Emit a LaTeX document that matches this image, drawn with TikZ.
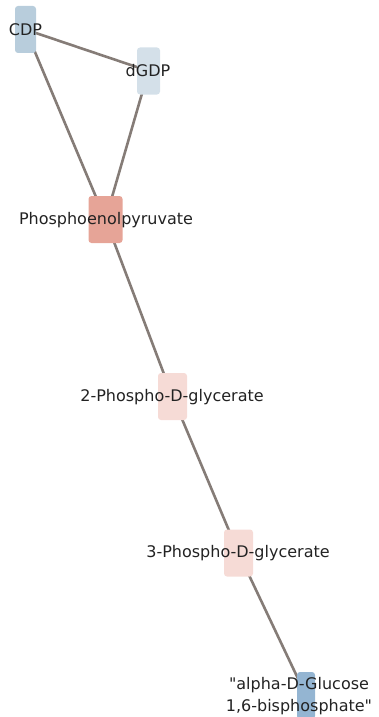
\documentclass[tikz,border=0pt]{standalone}
\usepackage{fontspec}
\setmainfont{DejaVu Sans}[Ligatures=TeXOff]
\definecolor{edgegray}{HTML}{857C77}
\definecolor{cdpblue}{HTML}{B8CDDC}
\definecolor{dgdpblue}{HTML}{D4E0E9}
\definecolor{pepred}{HTML}{E6A497}
\definecolor{pgapink}{HTML}{F6DBD6}
\definecolor{glcblue}{HTML}{94B5D2}
\definecolor{labeltext}{HTML}{222222}
\tikzset{
  metab/.style={rectangle, rounded corners=3pt, draw=none, minimum height=47pt, inner sep=0pt},
  lbl/.style={text=labeltext, font=\fontsize{16}{22}\selectfont, align=center, inner sep=0pt},
  link/.style={draw=edgegray, line width=2.6pt}
}
\begin{document}
\begin{tikzpicture}[x=1pt, y=-1pt]
\useasboundingbox (0,0) rectangle (379,717);
\clip (0,0) rectangle (379,717);
% anchor points of the metabolites
\coordinate (cdp)  at (25.5,29.5);
\coordinate (dgdp) at (148.5,71);
\coordinate (pep)  at (105.5,219.5);
\coordinate (pga2) at (172.5,396.5);
\coordinate (pga3) at (238.5,553);
\coordinate (glc)  at (306,695.5);
% connections, beneath the boxes
\draw[link] (cdp) -- (dgdp);
\draw[link] (cdp) -- (pep);
\draw[link] (dgdp) -- (pep);
\draw[link] (pep) -- (pga2);
\draw[link] (pga2) -- (pga3);
\draw[link] (pga3) -- (glc);
% metabolite boxes
\node[metab, fill=cdpblue,  minimum width=21pt] (bcdp)  at (cdp) {};
\node[metab, fill=dgdpblue, minimum width=23pt] (bdgdp) at (dgdp) {};
\node[metab, fill=pepred,   minimum width=34pt] (bpep)  at (pep) {};
\node[metab, fill=pgapink,  minimum width=29pt] (bpga2) at (pga2) {};
\node[metab, fill=pgapink,  minimum width=29pt] (bpga3) at (pga3) {};
\node[metab, fill=glcblue,  minimum width=18pt] (bglc)  at (glc) {};
% labels
\node[lbl] (tcdp)  at (25.5,30) {CDP};
\node[lbl] (tdgdp) at (148,71) {dGDP};
\node[lbl] (tpep)  at (106,220) {Phosphoenolpyruvate};
\node[lbl] (tpga2) at (172,397) {2-Phospho-D-glycerate};
\node[lbl] (tpga3) at (238,553) {3-Phospho-D-glycerate};
\node[lbl] (tglc)  at (299,696) {"alpha-D-Glucose\\1,6-bisphosphate"};
\end{tikzpicture}
\end{document}
